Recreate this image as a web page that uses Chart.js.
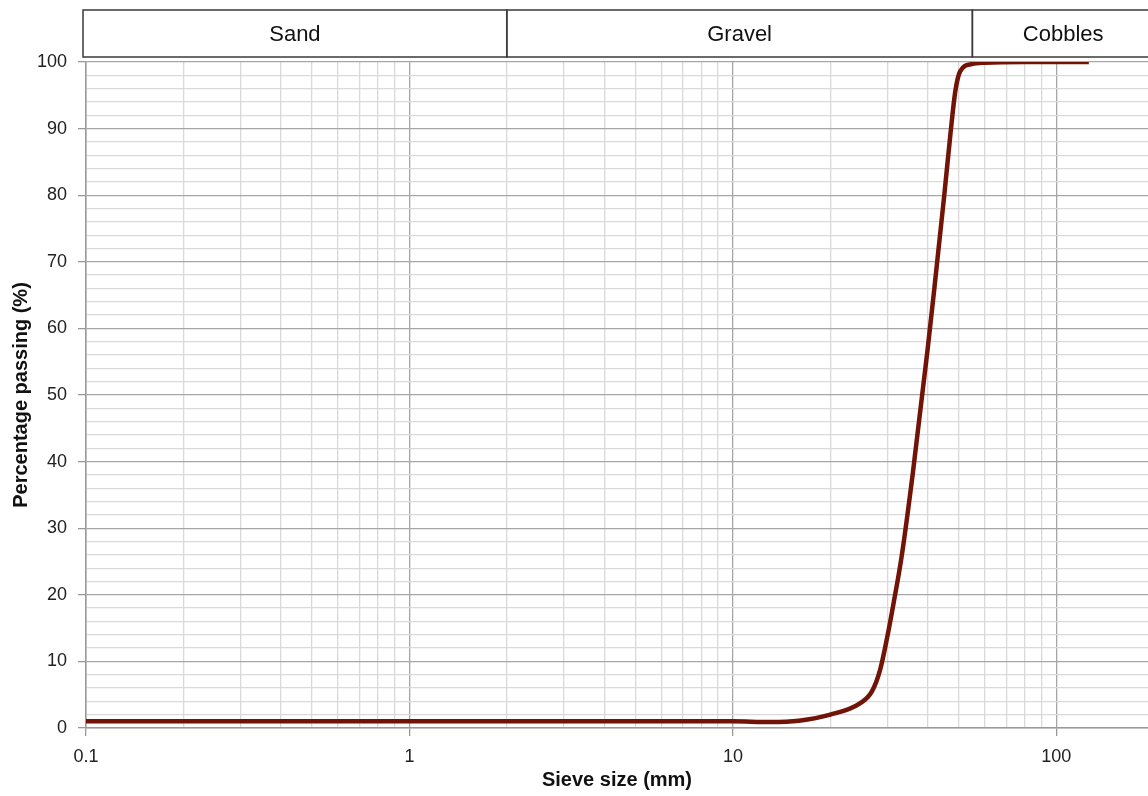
<!DOCTYPE html>
<html>
<head>
<meta charset="utf-8">
<script src="https://cdn.jsdelivr.net/npm/chart.js@4.4.0/dist/chart.umd.min.js"></script>
<style>
  body { margin: 0; background: #fff; }
  #wrap { width: 1148px; height: 796px; position: relative; overflow: hidden; }
</style>
</head>
<body>
<div id="wrap"><canvas id="grading" width="1148" height="796"></canvas></div>
<script>
// sieve sizes (mm) and percentage passing
const sieveSizes = [0.1, 0.2, 0.5, 1, 2, 5, 10, 13, 16, 20, 24.7, 26.9, 28.5, 29.9, 31.4, 33.2, 36, 40, 42, 45, 47, 48.7, 50.4, 54.8, 60, 80, 126];
const passing    = [1.0, 1.0, 1.0, 1.0, 1.0, 1.0, 1.0, 0.9, 1.1, 2.0, 3.7, 5.5, 8.7, 13.3, 18.8, 25.6, 38.3, 56.9, 66.2, 79.9, 89.0, 95.6, 98.6, 99.7, 99.9, 100, 100];

// soil class bands across the top
const classNames  = ['Sand', 'Gravel', 'Cobbles'];
const classBounds = [0.1, 2, 55, 1000];

const xDecades = [0.1, 1, 10, 100];
const xMin = 0.1, xMax = 192;

const FONT = "'Liberation Sans', Arial, sans-serif";

const classHeader = {
  id: 'classHeader',
  afterDraw(chart) {
    const ctx = chart.ctx;
    const x = chart.scales.x;
    const top = 10, bottom = 57;
    ctx.save();
    ctx.strokeStyle = '#3a3a3a';
    ctx.lineWidth = 1.5;
    ctx.font = '22px ' + FONT;
    ctx.fillStyle = '#111';
    ctx.textAlign = 'center';
    ctx.textBaseline = 'middle';
    for (let i = 0; i < classNames.length; i++) {
      let l = x.getPixelForValue(classBounds[i]);
      let r = x.getPixelForValue(classBounds[i + 1]);
      if (i === 0) l -= 3;
      ctx.strokeRect(l, top, r - l, bottom - top);
      const cr = Math.min(r, chart.width + 6);
      ctx.fillText(classNames[i], (l + cr) / 2, (top + bottom) / 2 + 1);
    }
    ctx.restore();
  }
};

new Chart(document.getElementById('grading'), {
  type: 'scatter',
  data: {
    datasets: [{
      data: sieveSizes.map((s, i) => ({ x: s, y: passing[i] })),
      showLine: true,
      borderColor: '#711306',
      borderWidth: 4.5,
      pointRadius: 0,
      cubicInterpolationMode: 'monotone',
      fill: false
    }]
  },
  options: {
    responsive: false,
    animation: false,
    layout: { padding: { top: 62, right: 0, left: 0, bottom: 0 } },
    plugins: { legend: { display: false }, tooltip: { enabled: false } },
    scales: {
      x: {
        type: 'logarithmic',
        min: xMin,
        max: xMax,
        afterBuildTicks(scale) {
          const ticks = [];
          for (const d of xDecades) {
            for (let m = 1; m <= 9; m++) {
              const v = +(d * m).toPrecision(3);
              if (v >= xMin && v <= xMax) ticks.push({ value: v });
            }
          }
          scale.ticks = ticks;
        },
        afterFit(scale) { scale.height = 68; },
        ticks: {
          autoSkip: false,
          maxRotation: 0,
          padding: 10,
          color: '#222',
          font: { family: FONT, size: 18 },
          callback: (v) => xDecades.includes(+v.toPrecision(3)) ? String(v) : ''
        },
        grid: {
          color: (c) => c.tick && xDecades.includes(+c.tick.value.toPrecision(3)) ? '#a6a6a6' : '#d9d9d9',
          tickColor: (c) => c.tick && xDecades.includes(+c.tick.value.toPrecision(3)) ? '#999' : 'rgba(0,0,0,0)',
          tickLength: 8,
          lineWidth: 1.3
        },
        border: { display: true, color: '#9a9a9a', width: 1.5 },
        title: {
          display: true,
          text: 'Sieve size (mm)',
          color: '#111',
          font: { family: FONT, size: 20, weight: 'bold' },
          padding: { top: 0, bottom: 4 }
        }
      },
      y: {
        min: 0,
        max: 100,
        afterFit(scale) { scale.width = 86; },
        ticks: {
          stepSize: 2,
          autoSkip: false,
          padding: 11,
          color: '#222',
          font: { family: FONT, size: 18 },
          callback: (v) => v % 10 === 0 ? String(v) : ''
        },
        grid: {
          color: (c) => c.tick && c.tick.value % 10 === 0 ? '#a6a6a6' : '#dadada',
          tickColor: (c) => c.tick && c.tick.value % 10 === 0 ? '#999' : 'rgba(0,0,0,0)',
          tickLength: 8,
          lineWidth: 1.3
        },
        border: { display: true, color: '#9a9a9a', width: 1.5 },
        title: {
          display: true,
          text: 'Percentage passing (%)',
          color: '#111',
          font: { family: FONT, size: 20, weight: 'bold' },
          padding: { top: 9, bottom: 0 }
        }
      }
    }
  },
  plugins: [classHeader]
});
</script>
</body>
</html>
